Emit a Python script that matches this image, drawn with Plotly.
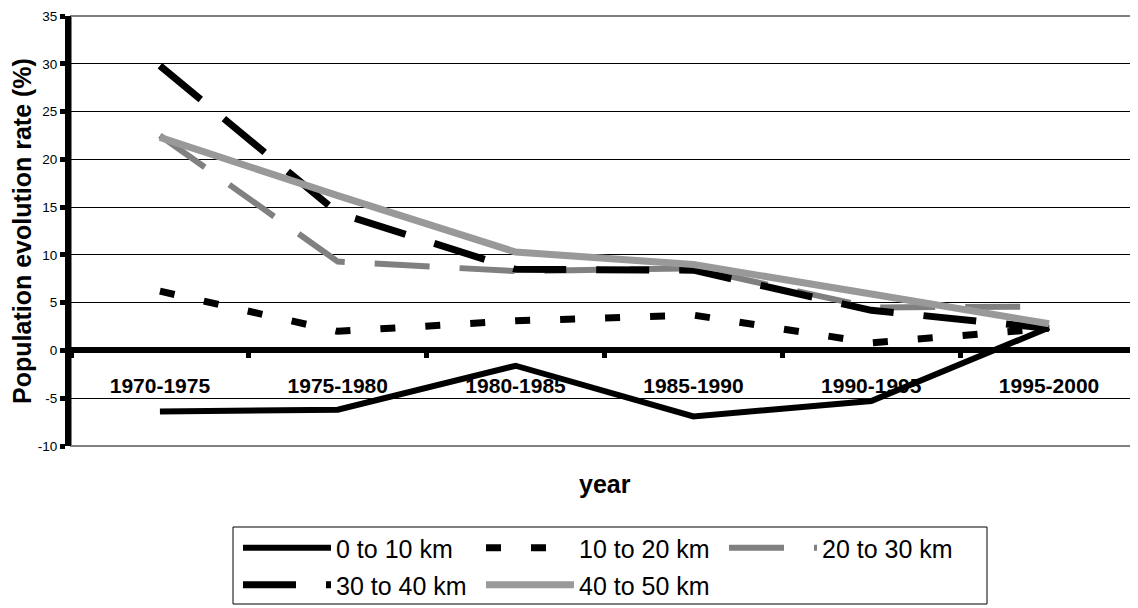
import plotly.graph_objects as go

years = ["1970-1975", "1975-1980", "1980-1985", "1985-1990", "1990-1995", "1995-2000"]
km_0_10 = [-6.4, -6.2, -1.6, -6.9, -5.3, 2.4]
km_10_20 = [6.2, 2.0, 3.1, 3.7, 0.8, 2.3]
km_20_30 = [22.5, 9.3, 8.3, 8.6, 4.5, 4.6]
km_30_40 = [29.8, 14.4, 8.5, 8.4, 4.2, 2.3]
km_40_50 = [22.3, 16.2, 10.3, 9.0, 5.9, 2.8]

y_tick_values = [-10, -5, 0, 5, 10, 15, 20, 25, 30, 35]
y_tick_labels = ["-10", "-5", "0", "5", "10", "15", "20", "25", "30", "35"]

series = [
    ("0 to 10 km", km_0_10, dict(color="black", width=6, dash="solid"), "legend"),
    ("10 to 20 km", km_10_20, dict(color="black", width=7, dash="15px,30px"), "legend"),
    ("20 to 30 km", km_20_30, dict(color="#808080", width=6, dash="55px,30px"), "legend"),
    ("30 to 40 km", km_30_40, dict(color="black", width=7, dash="53px,30px"), "legend2"),
    ("40 to 50 km", km_40_50, dict(color="#999999", width=7, dash="solid"), "legend2"),
]

FONT = "Liberation Sans, Arial, sans-serif"

fig = go.Figure()
for name, vals, line, leg in series:
    fig.add_trace(go.Scatter(x=years, y=vals, name=name, mode="lines",
                             line=line, legend=leg))

# page has an 8px body margin; figure is sized to fill the rest of the window
OFF = 8
W, H = 1130, 600
L, R, T, B = 63, 0, 8, 162
pw, ph = W - L - R, H - T - B

def px_x(xp):
    return (xp - OFF - L) / pw

def px_y(yp):
    return (H - B - (yp - OFF)) / ph

legend_common = dict(orientation="h", xanchor="left", yanchor="middle",
                     font=dict(size=25, family=FONT), bgcolor="rgba(0,0,0,0)", borderwidth=0,
                     entrywidth=140, entrywidthmode="pixels", itemwidth=88, tracegroupgap=0)

fig.update_layout(
    width=W, height=H,
    margin=dict(l=L, r=R, t=T, b=B, autoexpand=False),
    paper_bgcolor="white", plot_bgcolor="white",
    font=dict(family=FONT, color="black"),
    showlegend=True,
    legend=dict(x=px_x(238), y=px_y(548), **legend_common),
    legend2=dict(x=px_x(238), y=px_y(585), **legend_common),
    xaxis=dict(type="category", categoryorder="array", categoryarray=years,
               range=[-0.5, 5.5], autorange=False,
               anchor="free", position=10 / 45,
               showline=True, linecolor="black", linewidth=6,
               ticks="outside", tickson="boundaries", ticklen=5, tickwidth=5, tickcolor="black",
               showgrid=False, zeroline=False,
               tickfont=dict(size=21, family=FONT, color="black", weight="bold"),
               ticklabelstandoff=14, ticklabeloverflow="allow"),
    yaxis=dict(range=[-10, 35], autorange=False,
               tickmode="array", tickvals=y_tick_values, ticktext=y_tick_labels,
               showline=True, linecolor="black", linewidth=6,
               ticks="outside", ticklen=5, tickwidth=5, tickcolor="black",
               showgrid=True, gridcolor="black", gridwidth=1, zeroline=False,
               tickfont=dict(size=13.5, family=FONT, color="black"),
               ticklabeloverflow="allow",
               title=dict(text="<b>Population evolution rate (%)</b>", standoff=1,
                          font=dict(size=25, family=FONT, color="black")),
               automargin=False),
    shapes=[
        dict(type="rect", xref="paper", yref="paper", x0=0, x1=1, y0=0, y1=1,
             line=dict(color="#808080", width=2), layer="below"),
        dict(type="rect", xref="paper", yref="paper", x0=px_x(233), x1=px_x(987),
             y0=px_y(604), y1=px_y(527), line=dict(color="black", width=1), layer="above"),
    ],
    annotations=[
        dict(text="<b>year</b>", xref="paper", yref="paper", x=0.5, y=px_y(484),
             xanchor="center", yanchor="middle", showarrow=False,
             font=dict(size=25, family=FONT, color="black")),
    ],
)

fig.write_html("out.html")
